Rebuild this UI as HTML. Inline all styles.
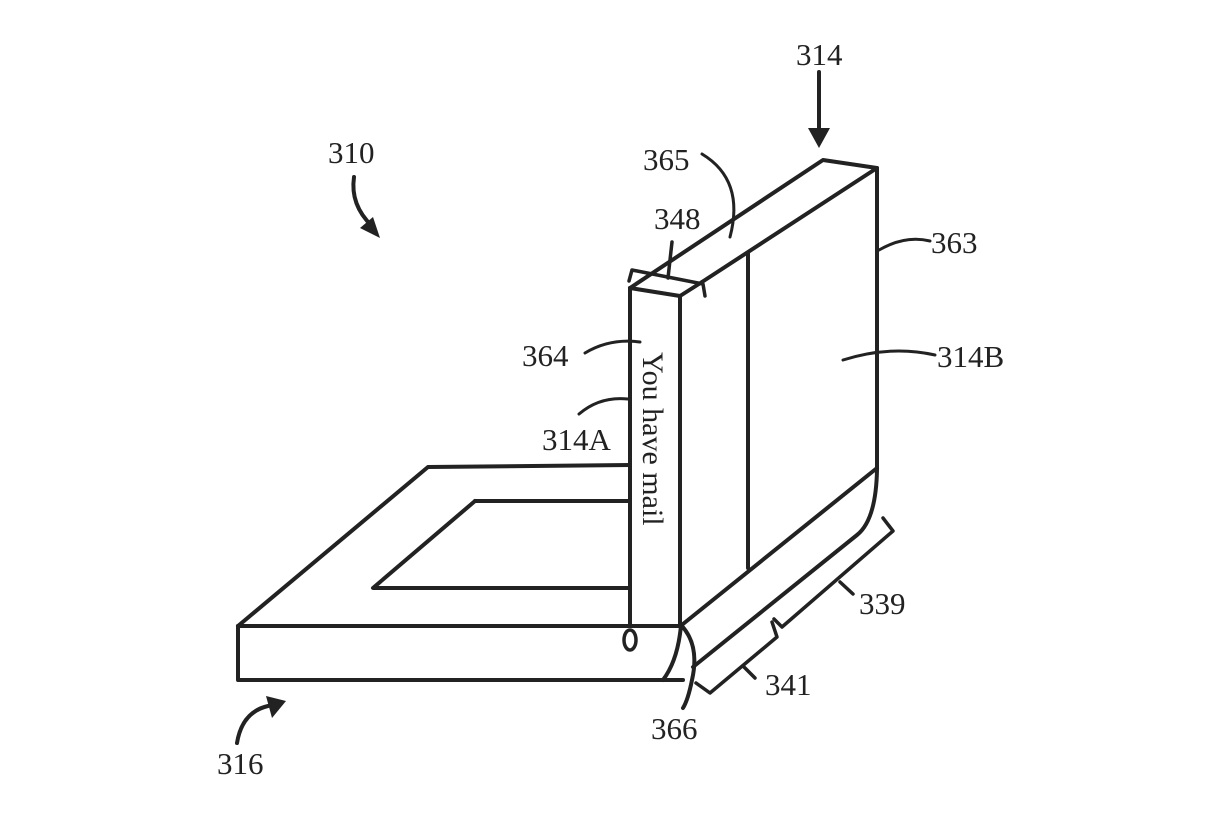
<!DOCTYPE html>
<html><head><meta charset="utf-8"><style>
html,body{margin:0;padding:0;background:#fff;}
svg{display:block;}
text{font-family:"Liberation Serif",serif;font-size:31px;fill:#222;}
</style></head><body>
<svg width="1228" height="819" viewBox="0 0 1228 819" xmlns="http://www.w3.org/2000/svg">
<g fill="none" stroke="#222" stroke-width="4" stroke-linejoin="round" stroke-linecap="round">
<!-- base -->
<path d="M238 626 L428 467 L630 465"/>
<path d="M238 626 L680 626"/>
<path d="M238 626 L238 680 L663 680 L683 680"/>
<path d="M475 501 L630 501"/>
<path d="M475 501 L373 588 L630 588"/>
<ellipse cx="630" cy="640" rx="6" ry="10" stroke-width="3.5"/>
<!-- hinge curves -->
<path d="M681 625 Q678 660 663 680"/>
<path d="M681 625 Q700 645 692 680 Q688 700 683 708"/>
<!-- panel A -->
<path d="M630 288 L630 626"/>
<path d="M680 296 L680 626"/>
<path d="M630 288 L680 296 L702 282"/>
<!-- top bar -->
<path d="M630 288 L823 160 L877 168 L702 282"/>
<!-- panel B -->
<path d="M877 168 L877 470 Q876 520 857 535 L693 667"/>
<path d="M877 468 L683 624"/>
<path d="M748 253 L748 568"/>
<!-- 348 bracket -->
<path d="M632 270 L629 281 M632 270 L703 284 L705 296 M672 242 L668 278" stroke-width="3.5"/>
<!-- leaders -->
<path d="M702 154 Q745 180 730 237" stroke-width="3"/>
<path d="M879 250 Q905 235 930 241" stroke-width="3"/>
<path d="M843 360 Q890 345 935 355" stroke-width="3"/>
<path d="M585 353 Q610 338 640 342" stroke-width="3"/>
<path d="M579 414 Q600 396 628 399" stroke-width="3"/>
<!-- 339 bracket -->
<path d="M883 518 L893 531 L782 627 L774 619" stroke-width="3.5"/>
<path d="M840 582 L853 594" stroke-width="3.5"/>
<!-- 341 bracket -->
<path d="M772 622 L777 637 L710 693 L696 683" stroke-width="3.5"/>
<path d="M744 667 L755 678" stroke-width="3.5"/>
<!-- arrows -->
<path d="M819 72 L819 130"/>
<path d="M354 177 Q350 205 372 226"/>
<path d="M237 743 Q242 712 268 706"/>
</g>
<g fill="#222">
<polygon points="808,128 830,128 819,148"/>
<polygon points="360,228 380,238 373,217"/>
<polygon points="266,696 286,701 272,718"/>
</g>
<text x="796" y="65">314</text>
<text x="328" y="163">310</text>
<text x="643" y="170">365</text>
<text x="654" y="229">348</text>
<text x="931" y="253">363</text>
<text x="522" y="366">364</text>
<text x="937" y="367">314B</text>
<text x="542" y="450">314A</text>
<text x="859" y="614">339</text>
<text x="765" y="695">341</text>
<text x="651" y="739">366</text>
<text x="217" y="774">316</text>
<text transform="translate(643,352) rotate(90)" style="font-size:30px">You have mail</text>
</svg>
</body></html>
